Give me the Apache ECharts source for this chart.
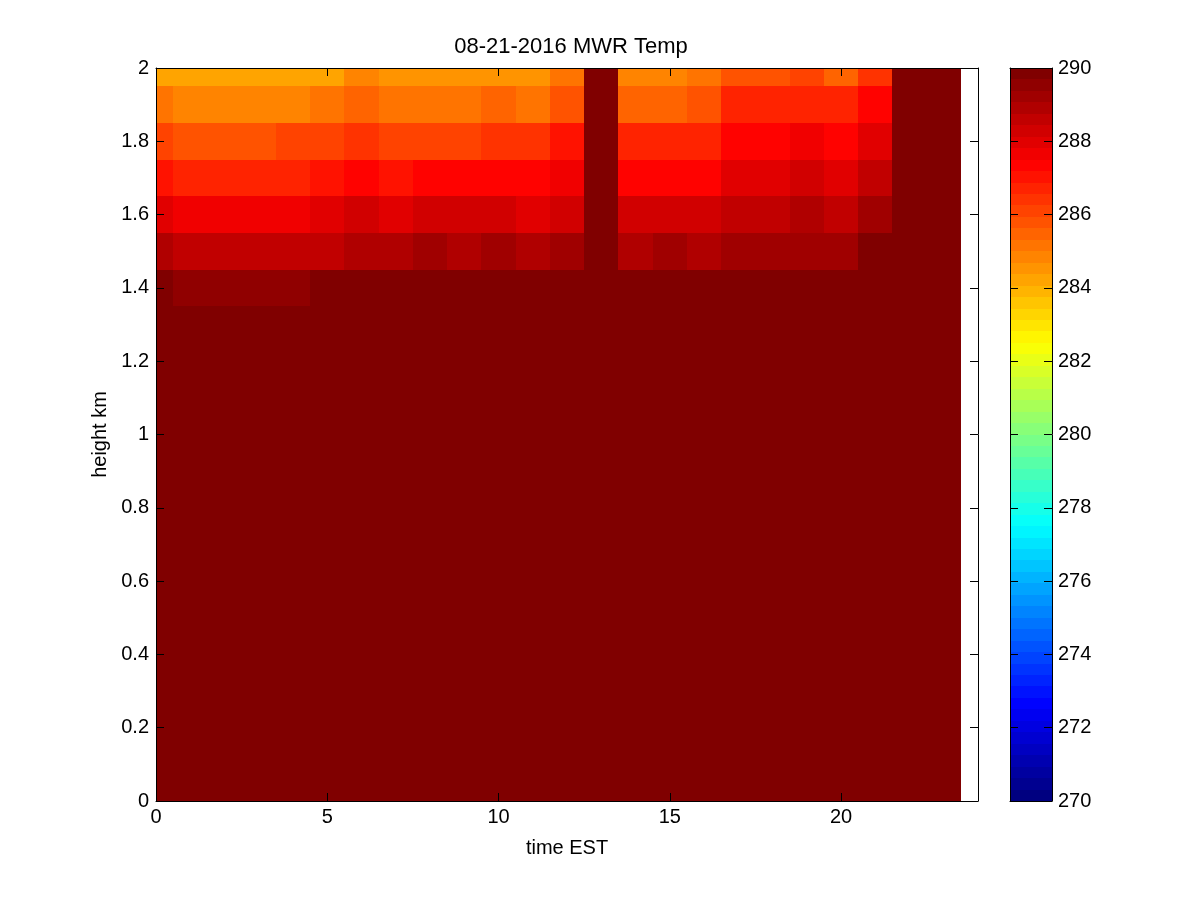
<!DOCTYPE html>
<html>
<head>
<meta charset="utf-8">
<script src="https://cdn.jsdelivr.net/npm/echarts@6/dist/echarts.min.js"></script>
<style>
  html, body { margin: 0; background: #fff; }
  #main { width: 1200px; height: 900px; }
</style>
</head>
<body>
<div id="main"></div>
<script>
// time (hour, EST) of each profile column
const hours = [0, 1, 2, 3, 4, 5, 6, 7, 8, 9, 10, 11, 12, 13, 14, 15, 16, 17, 18, 19, 20, 21, 22, 23];
// height levels (km), bottom to top
const heights = [0, 0.1, 0.2, 0.3, 0.4, 0.5, 0.6, 0.7, 0.8, 0.9, 1.0,
                 1.1, 1.2, 1.3, 1.4, 1.5, 1.6, 1.7, 1.8, 1.9, 2.0];

// temperature (K) per height level, one value per hour
const t2_0 = [284.22, 284.22, 284.22, 284.22, 284.22, 284.22, 284.84, 284.53, 284.53, 284.53, 284.53, 284.53, 285.16, 290, 284.84, 284.84, 285.16, 285.78, 285.78, 286.09, 285.47, 286.41, 290, 290];
const t1_9 = [285.16, 284.84, 284.84, 284.84, 284.84, 285.16, 285.47, 285.16, 285.16, 285.16, 285.47, 285.16, 285.78, 290, 285.47, 285.47, 285.78, 286.72, 286.72, 286.72, 286.72, 287.34, 290, 290];
const t1_8 = [286.09, 285.78, 285.78, 285.78, 286.09, 286.09, 286.41, 286.09, 286.09, 286.09, 286.41, 286.41, 287.03, 290, 286.72, 286.72, 286.72, 287.34, 287.34, 287.66, 287.34, 287.97, 290, 290];
const t1_7 = [287.03, 286.72, 286.72, 286.72, 286.72, 287.03, 287.34, 287.03, 287.34, 287.34, 287.34, 287.34, 287.66, 290, 287.34, 287.34, 287.34, 287.97, 287.97, 288.28, 287.97, 288.59, 290, 290];
const t1_6 = [287.97, 287.66, 287.66, 287.66, 287.66, 287.97, 288.28, 287.97, 288.28, 288.28, 288.28, 287.97, 288.28, 290, 288.28, 288.28, 288.28, 288.59, 288.59, 288.91, 288.59, 289.22, 290, 290];
const t1_5 = [288.91, 288.59, 288.59, 288.59, 288.59, 288.59, 288.91, 288.91, 289.22, 288.91, 289.22, 288.91, 289.22, 290, 288.91, 289.22, 288.91, 289.22, 289.22, 289.22, 289.22, 289.84, 290, 290];
const t1_4 = [290, 289.53, 289.53, 289.53, 289.53, 290, 290, 290, 290, 290, 290, 290, 290, 290, 290, 290, 290, 290, 290, 290, 290, 290, 290, 290];
const t1_3 = [290, 290, 290, 290, 290, 290, 290, 290, 290, 290, 290, 290, 290, 290, 290, 290, 290, 290, 290, 290, 290, 290, 290, 290];
const t1_2 = [290, 290, 290, 290, 290, 290, 290, 290, 290, 290, 290, 290, 290, 290, 290, 290, 290, 290, 290, 290, 290, 290, 290, 290];
const t1_1 = [290, 290, 290, 290, 290, 290, 290, 290, 290, 290, 290, 290, 290, 290, 290, 290, 290, 290, 290, 290, 290, 290, 290, 290];
const t1_0 = [290, 290, 290, 290, 290, 290, 290, 290, 290, 290, 290, 290, 290, 290, 290, 290, 290, 290, 290, 290, 290, 290, 290, 290];
const t0_9 = [290, 290, 290, 290, 290, 290, 290, 290, 290, 290, 290, 290, 290, 290, 290, 290, 290, 290, 290, 290, 290, 290, 290, 290];
const t0_8 = [290, 290, 290, 290, 290, 290, 290, 290, 290, 290, 290, 290, 290, 290, 290, 290, 290, 290, 290, 290, 290, 290, 290, 290];
const t0_7 = [290, 290, 290, 290, 290, 290, 290, 290, 290, 290, 290, 290, 290, 290, 290, 290, 290, 290, 290, 290, 290, 290, 290, 290];
const t0_6 = [290, 290, 290, 290, 290, 290, 290, 290, 290, 290, 290, 290, 290, 290, 290, 290, 290, 290, 290, 290, 290, 290, 290, 290];
const t0_5 = [290, 290, 290, 290, 290, 290, 290, 290, 290, 290, 290, 290, 290, 290, 290, 290, 290, 290, 290, 290, 290, 290, 290, 290];
const t0_4 = [290, 290, 290, 290, 290, 290, 290, 290, 290, 290, 290, 290, 290, 290, 290, 290, 290, 290, 290, 290, 290, 290, 290, 290];
const t0_3 = [290, 290, 290, 290, 290, 290, 290, 290, 290, 290, 290, 290, 290, 290, 290, 290, 290, 290, 290, 290, 290, 290, 290, 290];
const t0_2 = [290, 290, 290, 290, 290, 290, 290, 290, 290, 290, 290, 290, 290, 290, 290, 290, 290, 290, 290, 290, 290, 290, 290, 290];
const t0_1 = [290, 290, 290, 290, 290, 290, 290, 290, 290, 290, 290, 290, 290, 290, 290, 290, 290, 290, 290, 290, 290, 290, 290, 290];
const t0_0 = [290, 290, 290, 290, 290, 290, 290, 290, 290, 290, 290, 290, 290, 290, 290, 290, 290, 290, 290, 290, 290, 290, 290, 290];

const profile = [t0_0, t0_1, t0_2, t0_3, t0_4, t0_5, t0_6, t0_7, t0_8, t0_9, t1_0,
                 t1_1, t1_2, t1_3, t1_4, t1_5, t1_6, t1_7, t1_8, t1_9, t2_0];

const colorMin = 270, colorMax = 290, colorLevels = 64;

// matlab jet
const jet = ['#000080', '#0000ff', '#0080ff', '#00ffff', '#80ff80',
             '#ffff00', '#ff8000', '#ff0000', '#800000'];

let cells = [];
heights.forEach((h, i) => {
  hours.forEach((t, j) => {
    cells.push([t, h, profile[i][j]]);
  });
});

// colorbar bands: centre of each colormap step
const step = (colorMax - colorMin) / colorLevels;
let bands = [];
for (let k = 0; k < colorLevels; k++) bands.push([colorMin + (k + 0.5) * step]);

const font = "'Liberation Sans', Arial, sans-serif";
const txt = { color: '#000', fontFamily: font, fontSize: 20 };

function snapRect(a, b, cs) {
  let x0 = Math.round(Math.min(a[0], b[0])), x1 = Math.round(Math.max(a[0], b[0]));
  let y0 = Math.round(Math.min(a[1], b[1])), y1 = Math.round(Math.max(a[1], b[1]));
  return echarts.graphic.clipRectByRect(
    { x: x0, y: y0, width: x1 - x0, height: y1 - y0 },
    { x: cs.x, y: cs.y, width: cs.width, height: cs.height }
  );
}

function renderCell(params, api) {
  let t = api.value(0), h = api.value(1);
  let shape = snapRect(api.coord([t - 0.5, h + 0.05]), api.coord([t + 0.5, h - 0.05]), params.coordSys);
  if (!shape) return;
  return { type: 'rect', shape: shape, style: { fill: api.visual('color') } };
}

function renderBand(params, api) {
  let v = api.value(0);
  let shape = snapRect(api.coord([0, v + step / 2]), api.coord([1, v - step / 2]), params.coordSys);
  if (!shape) return;
  return { type: 'rect', shape: shape, style: { fill: api.visual('color') } };
}

let myChart = echarts.init(document.getElementById('main'));

let edge = { show: true, onZero: false, lineStyle: { color: '#000', width: 1 } };
let inTick = { show: true, inside: true, length: 8, lineStyle: { color: '#000' } };

let option = {
  backgroundColor: '#fff',
  animation: false,
  title: {
    text: '08-21-2016 MWR Temp',
    left: 566, top: 31, textAlign: 'center',
    textStyle: { color: '#000', fontFamily: font, fontSize: 22, fontWeight: 'normal' }
  },
  grid: [
    { left: 156, top: 68, width: 822, height: 733 },
    { left: 1010, top: 68, width: 42, height: 733 }
  ],
  xAxis: [
    {
      type: 'value', gridIndex: 0, min: 0, max: 24, interval: 5, position: 'bottom', z: 10,
      name: 'time EST', nameLocation: 'middle', nameGap: 37, nameTextStyle: txt,
      axisLine: edge, axisTick: inTick, splitLine: { show: false },
      axisLabel: Object.assign({ margin: 6, showMaxLabel: false }, txt)
    },
    {
      type: 'value', gridIndex: 0, min: 0, max: 24, interval: 5, position: 'top', z: 10,
      axisLine: edge, axisTick: inTick, splitLine: { show: false }, axisLabel: { show: false }
    },
    {
      type: 'value', gridIndex: 1, min: 0, max: 1, position: 'bottom', z: 10,
      axisLine: edge, axisTick: { show: false }, splitLine: { show: false }, axisLabel: { show: false }
    },
    {
      type: 'value', gridIndex: 1, min: 0, max: 1, position: 'top', z: 10,
      axisLine: edge, axisTick: { show: false }, splitLine: { show: false }, axisLabel: { show: false }
    }
  ],
  yAxis: [
    {
      type: 'value', gridIndex: 0, min: 0, max: 2, interval: 0.2, position: 'left', z: 10,
      name: 'height km', nameLocation: 'middle', nameGap: 46, nameTextStyle: txt,
      axisLine: edge, axisTick: inTick, splitLine: { show: false },
      axisLabel: Object.assign({ margin: 7 }, txt)
    },
    {
      type: 'value', gridIndex: 0, min: 0, max: 2, interval: 0.2, position: 'right', z: 10,
      axisLine: edge, axisTick: inTick, splitLine: { show: false }, axisLabel: { show: false }
    },
    {
      type: 'value', gridIndex: 1, min: colorMin, max: colorMax, interval: 2, position: 'right', z: 10,
      axisLine: edge, axisTick: inTick, splitLine: { show: false },
      axisLabel: Object.assign({ margin: 6 }, txt)
    },
    {
      type: 'value', gridIndex: 1, min: colorMin, max: colorMax, interval: 2, position: 'left', z: 10,
      axisLine: edge, axisTick: inTick, splitLine: { show: false }, axisLabel: { show: false }
    }
  ],
  visualMap: [
    {
      type: 'piecewise', show: false,
      min: colorMin, max: colorMax, splitNumber: colorLevels,
      dimension: 2, seriesIndex: 0,
      inRange: { color: jet }
    },
    {
      type: 'piecewise', show: false,
      min: colorMin, max: colorMax, splitNumber: colorLevels,
      dimension: 0, seriesIndex: 1,
      inRange: { color: jet }
    }
  ],
  series: [
    {
      type: 'custom',
      xAxisIndex: 0, yAxisIndex: 0,
      renderItem: renderCell,
      data: cells
    },
    {
      type: 'custom',
      xAxisIndex: 2, yAxisIndex: 2,
      renderItem: renderBand,
      data: bands
    }
  ]
};

myChart.setOption(option);
</script>
</body>
</html>
